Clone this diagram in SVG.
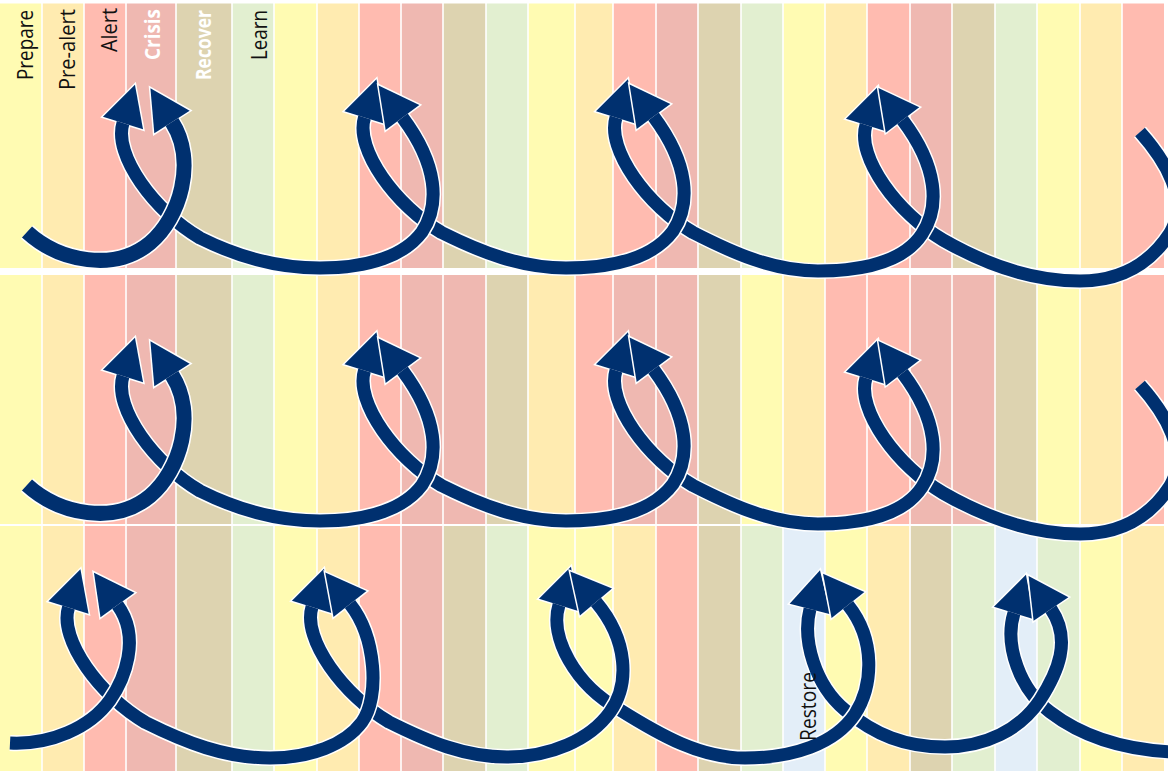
<svg xmlns="http://www.w3.org/2000/svg" xmlns:xlink="http://www.w3.org/1999/xlink" width="1168" height="773" viewBox="0 0 1168 773">
<style>
.P{fill:#fffbb2}.PA{fill:#ffebb0}.A{fill:#ffbbb0}.C{fill:#efb8b1}.R{fill:#ddd3b0}.L{fill:#e2efd0}.S{fill:#e3eef8}
.w{fill:none;stroke:#ffffff;stroke-width:16;stroke-linecap:butt}
.n{fill:none;stroke:#00306f;stroke-width:13;stroke-linecap:butt}
.w.t{stroke-width:18}.n.t{stroke-width:15}
.w.s{marker-start:url(#hw)}.w.e{marker-end:url(#hw)}
.n.s{marker-start:url(#hn)}.n.e{marker-end:url(#hn)}
.lbl{font-family:"Open Sans","Liberation Sans",sans-serif;font-size:22px;fill:#111}
.lw{fill:#ffffff;font-weight:bold}
</style>
<defs>
<marker id="hn" markerUnits="userSpaceOnUse" orient="auto-start-reverse" refX="0" refY="0" markerWidth="60" markerHeight="60" overflow="visible"><path d="M0,-21 L40,0 L0,21 Z" fill="#00306f"/></marker>
<marker id="hw" markerUnits="userSpaceOnUse" orient="auto-start-reverse" refX="0" refY="0" markerWidth="60" markerHeight="60" overflow="visible"><path d="M0,-21 L40,0 L0,21 Z" fill="#ffffff" stroke="#ffffff" stroke-width="3" stroke-linejoin="miter"/></marker>
<path id="r1u4" d="M866,125 C856,157 898,214 943,240 C983,263 1030,281 1080,281 C1120,281 1150,264 1170,233 C1190,200 1165,160 1140,132"/>
<path id="r1u3" d="M616,117.5 C606,149.5 648,206.5 693,232.5 C733,253 773,271 818,271 C873,271 907,257 922,234 C940,207 938,167 902.5,120"/>
<path id="r1u2" d="M364.5,117.5 C354.5,149.5 396.5,206.5 441.5,232.5 C481.5,252.5 521.5,268 566,268 C621,268 656,254 673,231 C691,204 689,164 653.5,116.5"/>
<path id="r1u1" d="M123,123 C113,155 155,212 200,238 C240,258 280,268 320,268 C370,268 405,255 422,232 C440,205 438,165 402.5,117.5"/>
<path id="r1j0" d="M27,232 C60,262 115,272 150,243 C180,218 197,161 172,122"/>
<path id="r3u5" d="M1014,613 C1004,645 1020,690 1050,712 C1080,735 1120,750 1175,752"/>
<path id="r3u4" d="M810,609 C802,640 815,685 845,710 C875,735 905,747 945,747 C985,747 1020,730 1040,700 C1058,672 1072,640 1051,609"/>
<path id="r3u3" d="M559,605 C549,637 575,685 620,710 C660,735 700,758 745,758 C793,758 835,744 855,714 C873,686 876,640 848,605"/>
<path id="r3u2" d="M312,607 C302,639 344,696 389,722 C429,742 465,757 507,757 C550,757 590,740 610,712 C630,684 628,640 596,602"/>
<path id="r3u1" d="M68.5,607.5 C58.5,639.5 100.5,696.5 145.5,722.5 C185.5,742.5 225,758 270,758 C310,758 345,745 362,722 C380,697 376,637 350,604"/>
<path id="r3j0" d="M10,743 C50,745 90,728 110,700 C124,680 141.5,638 117.5,605"/>
</defs>
<rect width="1168" height="773" fill="#ffffff"/>
<g id="row1-phases" transform="translate(0,3.5)">
<rect class="P" x="0" y="0" width="41.2" height="264.5"/><rect class="PA" x="42.8" y="0" width="40.4" height="264.5"/><rect class="A" x="84.8" y="0" width="40.4" height="264.5"/><rect class="C" x="126.8" y="0" width="48.4" height="264.5"/><rect class="R" x="176.8" y="0" width="54.4" height="264.5"/><rect class="L" x="232.8" y="0" width="40.4" height="264.5"/>
<rect class="P" x="274.8" y="0" width="41.4" height="264.5"/><rect class="PA" x="317.8" y="0" width="40.4" height="264.5"/><rect class="A" x="359.8" y="0" width="40.4" height="264.5"/><rect class="C" x="401.8" y="0" width="40.4" height="264.5"/><rect class="R" x="443.8" y="0" width="41.4" height="264.5"/><rect class="L" x="486.8" y="0" width="40.4" height="264.5"/>
<rect class="P" x="528.8" y="0" width="45.4" height="264.5"/><rect class="PA" x="575.8" y="0" width="36.4" height="264.5"/><rect class="A" x="613.8" y="0" width="41.4" height="264.5"/><rect class="C" x="656.8" y="0" width="40.4" height="264.5"/><rect class="R" x="698.8" y="0" width="41.4" height="264.5"/><rect class="L" x="741.8" y="0" width="40.4" height="264.5"/>
<rect class="P" x="783.8" y="0" width="40.4" height="264.5"/><rect class="PA" x="825.8" y="0" width="40.4" height="264.5"/><rect class="A" x="867.8" y="0" width="41.4" height="264.5"/><rect class="C" x="910.8" y="0" width="40.4" height="264.5"/><rect class="R" x="952.8" y="0" width="41.4" height="264.5"/><rect class="L" x="995.8" y="0" width="40.4" height="264.5"/>
<rect class="P" x="1037.8" y="0" width="41.4" height="264.5"/><rect class="PA" x="1080.8" y="0" width="40.4" height="264.5"/><rect class="A" x="1122.8" y="0" width="41.2" height="264.5"/>
</g>
<g id="row2-phases" transform="translate(0,275)">
<rect class="P" x="0" y="0" width="41.2" height="249"/><rect class="PA" x="42.8" y="0" width="40.4" height="249"/><rect class="A" x="84.8" y="0" width="40.4" height="249"/><rect class="C" x="126.8" y="0" width="48.4" height="249"/><rect class="R" x="176.8" y="0" width="54.4" height="249"/><rect class="L" x="232.8" y="0" width="40.4" height="249"/>
<rect class="P" x="274.8" y="0" width="41.4" height="249"/><rect class="PA" x="317.8" y="0" width="40.4" height="249"/><rect class="A" x="359.8" y="0" width="40.4" height="249"/><rect class="C" x="401.8" y="0" width="40.4" height="249"/><rect class="C" x="443.8" y="0" width="41.4" height="249"/><rect class="R" x="486.8" y="0" width="40.4" height="249"/>
<rect class="PA" x="528.8" y="0" width="45.4" height="249"/><rect class="A" x="575.8" y="0" width="36.4" height="249"/><rect class="C" x="613.8" y="0" width="41.4" height="249"/><rect class="C" x="656.8" y="0" width="40.4" height="249"/><rect class="R" x="698.8" y="0" width="41.4" height="249"/><rect class="P" x="741.8" y="0" width="40.4" height="249"/>
<rect class="PA" x="783.8" y="0" width="40.4" height="249"/><rect class="A" x="825.8" y="0" width="40.4" height="249"/><rect class="A" x="867.8" y="0" width="41.4" height="249"/><rect class="C" x="910.8" y="0" width="40.4" height="249"/><rect class="C" x="952.8" y="0" width="41.4" height="249"/><rect class="R" x="995.8" y="0" width="40.4" height="249"/>
<rect class="P" x="1037.8" y="0" width="41.4" height="249"/><rect class="PA" x="1080.8" y="0" width="40.4" height="249"/><rect class="A" x="1122.8" y="0" width="41.2" height="249"/>
</g>
<g id="row3-phases" transform="translate(0,526)">
<rect class="P" x="0" y="0" width="41.2" height="245"/><rect class="PA" x="42.8" y="0" width="40.4" height="245"/><rect class="A" x="84.8" y="0" width="40.4" height="245"/><rect class="C" x="126.8" y="0" width="48.4" height="245"/><rect class="R" x="176.8" y="0" width="54.4" height="245"/><rect class="L" x="232.8" y="0" width="40.4" height="245"/>
<rect class="P" x="274.8" y="0" width="41.4" height="245"/><rect class="PA" x="317.8" y="0" width="40.4" height="245"/><rect class="A" x="359.8" y="0" width="40.4" height="245"/><rect class="C" x="401.8" y="0" width="40.4" height="245"/><rect class="R" x="443.8" y="0" width="41.4" height="245"/><rect class="L" x="486.8" y="0" width="40.4" height="245"/>
<rect class="P" x="528.8" y="0" width="45.4" height="245"/><rect class="P" x="575.8" y="0" width="36.4" height="245"/><rect class="PA" x="613.8" y="0" width="41.4" height="245"/><rect class="A" x="656.8" y="0" width="40.4" height="245"/><rect class="R" x="698.8" y="0" width="41.4" height="245"/><rect class="L" x="741.8" y="0" width="40.4" height="245"/>
<rect class="S" x="783.8" y="0" width="40.4" height="245"/><rect class="P" x="825.8" y="0" width="40.4" height="245"/><rect class="PA" x="867.8" y="0" width="41.4" height="245"/><rect class="R" x="910.8" y="0" width="40.4" height="245"/><rect class="L" x="952.8" y="0" width="41.4" height="245"/><rect class="S" x="995.8" y="0" width="40.4" height="245"/>
<rect class="L" x="1037.8" y="0" width="41.4" height="245"/><rect class="P" x="1080.8" y="0" width="40.4" height="245"/><rect class="PA" x="1122.8" y="0" width="41.2" height="245"/>
</g>
<g id="connectors">
<g id="arrows-row1">
<use href="#r1u4" class="w s"/><use href="#r1u4" class="n s"/>
<use href="#r1u3" class="w s e"/><use href="#r1u3" class="n s e"/>
<use href="#r1u2" class="w s e"/><use href="#r1u2" class="n s e"/>
<use href="#r1u1" class="w s e"/><use href="#r1u1" class="n s e"/>
<use href="#r1j0" class="w e t"/><use href="#r1j0" class="n e t"/>
</g>
<g id="arrows-row2" transform="translate(0,253)">
<use href="#r1u4" class="w s"/><use href="#r1u4" class="n s"/>
<use href="#r1u3" class="w s e"/><use href="#r1u3" class="n s e"/>
<use href="#r1u2" class="w s e"/><use href="#r1u2" class="n s e"/>
<use href="#r1u1" class="w s e"/><use href="#r1u1" class="n s e"/>
<use href="#r1j0" class="w e t"/><use href="#r1j0" class="n e t"/>
</g>
<g id="arrows-row3">
<use href="#r3u5" class="w s"/><use href="#r3u5" class="n s"/>
<use href="#r3u4" class="w s e"/><use href="#r3u4" class="n s e"/>
<use href="#r3u3" class="w s e"/><use href="#r3u3" class="n s e"/>
<use href="#r3u2" class="w s e"/><use href="#r3u2" class="n s e"/>
<use href="#r3u1" class="w s e"/><use href="#r3u1" class="n s e"/>
<use href="#r3j0" class="w e"/><use href="#r3j0" class="n e"/>
</g>
</g>
<g id="labels">
<text class="lbl" transform="translate(33,10) rotate(-90)" text-anchor="end" textLength="70" lengthAdjust="spacingAndGlyphs">Prepare</text>
<text class="lbl" transform="translate(75,9) rotate(-90)" text-anchor="end" textLength="81" lengthAdjust="spacingAndGlyphs">Pre-alert</text>
<text class="lbl" transform="translate(117,8) rotate(-90)" text-anchor="end" textLength="44" lengthAdjust="spacingAndGlyphs">Alert</text>
<text class="lbl lw" transform="translate(160,9) rotate(-90)" text-anchor="end" textLength="51" lengthAdjust="spacingAndGlyphs">Crisis</text>
<text class="lbl lw" transform="translate(211,10) rotate(-90)" text-anchor="end" textLength="70" lengthAdjust="spacingAndGlyphs">Recover</text>
<text class="lbl" transform="translate(267,10) rotate(-90)" text-anchor="end" textLength="50" lengthAdjust="spacingAndGlyphs">Learn</text>
<text class="lbl" transform="translate(816,741) rotate(-90)" text-anchor="start" textLength="69" lengthAdjust="spacingAndGlyphs">Restore</text>
</g>
</svg>
